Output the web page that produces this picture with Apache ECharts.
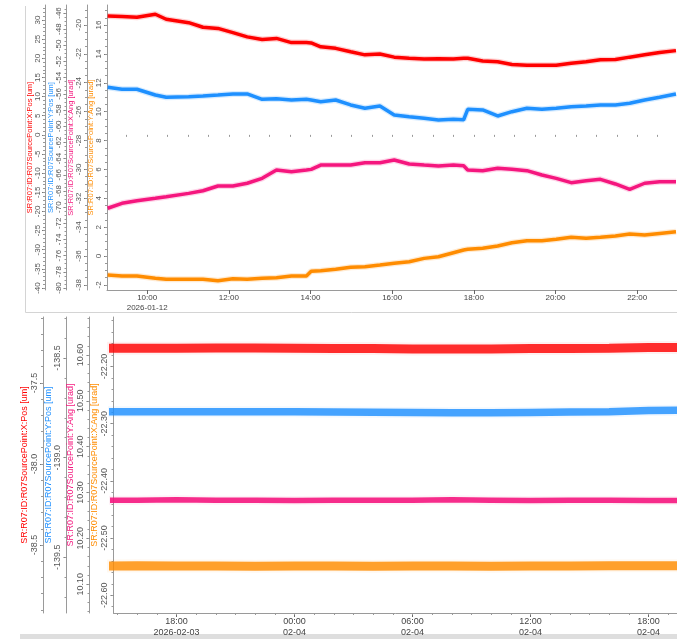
<!DOCTYPE html>
<html><head><meta charset="utf-8">
<script src="https://cdn.jsdelivr.net/npm/echarts@6/dist/echarts.min.js"></script>
<style>html,body{margin:0;padding:0;background:#fff;overflow:hidden}#c{width:677px;height:639px}</style>
</head><body><div id="c"></div><script>
// ---------- DATA: top panel (2026-01-12) ----------
const topDate = '2026-01-12';
const topTimes = ['09:02','09:23','09:45','10:12','10:28','11:01','11:22','11:44','12:06','12:27','12:49','13:10','13:32','13:54','14:01','14:15','14:37','14:59','15:20','15:42','16:03','16:25','16:47','17:08','17:30','17:45','17:51','18:13','18:35','18:56','19:18','19:40','20:01','20:23','20:45','21:06','21:28','21:49','22:11','22:33','22:57'];
const topXPos = [31.04,30.9,30.7,31.5,30.2,29.3,28.1,27.8,26.7,25.6,24.9,25.2,24.1,24.1,24.0,23.0,22.6,21.7,20.9,21.1,20.3,20.0,19.8,19.9,19.8,20.0,20.0,19.3,19.1,18.4,18.2,18.2,18.2,18.7,19.1,19.6,19.7,20.3,20.9,21.5,22.0];
const topYPos = [-55.19,-55.43,-55.43,-56.14,-56.42,-56.35,-56.26,-56.14,-56.01,-56.01,-56.67,-56.60,-56.76,-56.67,-56.75,-56.97,-56.76,-57.37,-57.78,-57.50,-58.61,-58.82,-59.02,-59.23,-59.14,-59.20,-57.91,-57.99,-58.73,-58.20,-57.78,-57.91,-57.78,-57.59,-57.50,-57.37,-57.37,-57.16,-56.76,-56.42,-56.01];
const topXAng = [-32.69,-32.35,-32.17,-32.00,-31.89,-31.66,-31.48,-31.15,-31.15,-30.96,-30.62,-30.04,-30.16,-30.04,-30.00,-29.70,-29.70,-29.70,-29.54,-29.54,-29.35,-29.63,-29.70,-29.76,-29.70,-29.75,-30.04,-30.09,-29.92,-29.99,-30.09,-30.39,-30.62,-30.92,-30.78,-30.69,-31.01,-31.38,-30.96,-30.85,-30.85];
const topYAng = [-1.31,-1.38,-1.38,-1.54,-1.61,-1.61,-1.61,-1.71,-1.57,-1.61,-1.54,-1.50,-1.38,-1.38,-1.05,-1.02,-0.92,-0.78,-0.74,-0.62,-0.50,-0.39,-0.16,-0.05,0.23,0.42,0.47,0.54,0.70,0.92,1.06,1.06,1.16,1.30,1.23,1.30,1.39,1.53,1.46,1.57,1.69];
const topTicksXPos = [30,25,20,15,10,5,0,-5,-10,-15,-20,-25,-30,-35,-40];
const topTicksYPos = [-46,-48,-50,-52,-54,-56,-58,-60,-62,-64,-66,-68,-70,-72,-74,-76,-78,-80];
const topTicksXAng = [-20,-22,-24,-26,-28,-30,-32,-34,-36,-38];
const topTicksYAng = [16,14,12,10,8,6,4,2,0,-2];
const topTimeTicks = ['10:00','12:00','14:00','16:00','18:00','20:00','22:00'];
const topTimeLabels = ['10:00\n2026-01-12','12:00','14:00','16:00','18:00','20:00','22:00'];

// ---------- DATA: bottom panel (2026-02-03 .. 02-04) ----------
const botTimes = ['2026-02-03 14:00','2026-02-03 16:00','2026-02-03 18:00','2026-02-03 20:00','2026-02-03 22:00','2026-02-04 00:00','2026-02-04 02:00','2026-02-04 04:00','2026-02-04 06:00','2026-02-04 08:00','2026-02-04 10:00','2026-02-04 12:00','2026-02-04 14:00','2026-02-04 16:00','2026-02-04 18:00','2026-02-04 20:00'];
const botXPos = [-37.286,-37.286,-37.286,-37.284,-37.284,-37.286,-37.288,-37.288,-37.290,-37.290,-37.290,-37.288,-37.288,-37.286,-37.282,-37.282];
const botYPos = [-138.770,-138.770,-138.770,-138.770,-138.770,-138.770,-138.771,-138.772,-138.773,-138.775,-138.775,-138.773,-138.771,-138.770,-138.763,-138.761];
const botYAng = [10.2833,10.2833,10.2840,10.2833,10.2833,10.2826,10.2833,10.2833,10.2833,10.2840,10.2833,10.2826,10.2833,10.2833,10.2826,10.2826];
const botXAng = [-22.5488,-22.5482,-22.5488,-22.5488,-22.5494,-22.5488,-22.5488,-22.5494,-22.5488,-22.5488,-22.5494,-22.5488,-22.5488,-22.5482,-22.5482,-22.5482];
const botTicksXPos = [-37.5,-38.0,-38.5];
const botTicksYPos = [-138.5,-139.0,-139.5];
const botTicksYAng = [10.60,10.50,10.40,10.30,10.20,10.10];
const botTicksXAng = [-22.20,-22.30,-22.40,-22.50,-22.60];
const botTimeTicks = ['2026-02-03 18:00','2026-02-04 00:00','2026-02-04 06:00','2026-02-04 12:00','2026-02-04 18:00'];
const botTimeLabels = ['18:00\n2026-02-03','00:00\n02-04','06:00\n02-04','12:00\n02-04','18:00\n02-04'];

// ---------- helpers ----------
const FONT = 'Liberation Sans';
const C_RED = '#ff0000', C_BLUE = '#1e90ff', C_PINK = '#f5167e', C_ORANGE = '#ff8c00';
function ts(s){ return new Date(s.replace(' ', 'T') + ':00').getTime(); }
function minorList(min, max, step){
  const out = []; let v = Math.ceil(min / step - 1e-9) * step;
  for (; v <= max + 1e-9; v += step) out.push(+v.toFixed(6));
  return out;
}
const yAxes = [];
function addY(grid, offset, min, max, ticks, dec, step, name, color, gap, fs, nfs, margin){
  const idx = yAxes.length;
  yAxes.push({
    type:'value', gridIndex:grid, position:'left', offset:offset, min:min, max:max,
    name:name, nameLocation:'middle', nameGap:gap, nameMoveOverlap:false,
    nameTextStyle:{color:color, fontSize:nfs, fontFamily:FONT},
    axisLine:{show:true, onZero:false, lineStyle:{color:'#9a9a9a', width:1}},
    axisTick:{show:true, length:3, customValues:ticks, lineStyle:{color:'#777'}},
    axisLabel:{show:true, rotate:90, margin:margin, fontSize:fs, fontFamily:FONT, color:'#555',
      customValues:ticks, formatter:v => Number(v).toFixed(dec)},
    splitLine:{show:false}
  });
  yAxes.push({
    type:'value', gridIndex:grid, position:'left', offset:offset, min:min, max:max,
    axisLine:{show:false}, axisLabel:{show:false}, splitLine:{show:false},
    axisTick:{show:true, length:2, customValues:minorList(min, max, step), lineStyle:{color:'#999'}}
  });
  return idx;
}

// Top panel axes
const yTopXPos = addY(0, 62, -40.52, 33.92, topTicksXPos, 0, 1, 'SR:R07:ID:R07SourcePoint:X:Pos [um]', C_RED, 11, 8, 7.5, 3);
const yTopYPos = addY(0, 40.5, -80.25, -45.01, topTicksYPos, 0, 0.5, 'SR:R07:ID:R07SourcePoint:Y:Pos [um]', C_BLUE, 12, 8, 7.5, 4);
const yTopXAng = addY(0, 20, -38.35, -18.62, topTicksXAng, 0, 0.5, 'SR:R07:ID:R07SourcePoint:X:Ang [urad]', C_PINK, 12, 8, 7.5, 4);
const yTopYAng = addY(0, 0, -2.35, 17.39, topTicksYAng, 0, 0.5, 'SR:R07:ID:R07SourcePoint:Y:Ang [urad]', C_ORANGE, 12, 8, 7.5, 4);
// Bottom panel axes
const yBotXPos = addY(1, 70.5, -38.92, -37.093, botTicksXPos, 1, 0.1, 'SR:R07:ID:R07SourcePoint:X:Pos [um]', C_RED, 14, 9, 9, 4);
const yBotYPos = addY(1, 47, -139.78, -138.294, botTicksYPos, 1, 0.1, 'SR:R07:ID:R07SourcePoint:Y:Pos [um]', C_BLUE, 13, 9, 9, 4);
const yBotYAng = addY(1, 24, 10.037, 10.683, botTicksYAng, 2, 0.02, 'SR:R07:ID:R07SourcePoint:Y:Ang [urad]', C_PINK, 14, 9, 9, 4);
const yBotXAng = addY(1, 0, -22.631, -22.1135, botTicksXAng, 2, 0.02, 'SR:R07:ID:R07SourcePoint:X:Ang [urad]', C_ORANGE, 14, 9, 9, 4);

function xAxisPair(grid, min, max, tickStrs, labels, minorStep, fs){
  const majors = tickStrs.map(ts);
  const minors = [];
  for (let v = Math.ceil(min / minorStep) * minorStep; v <= max; v += minorStep) minors.push(v);
  return [{
    type:'value', gridIndex:grid, position:'bottom', min:min, max:max, scale:true,
    axisLine:{show:true, onZero:false, lineStyle:{color:'#9a9a9a'}},
    axisTick:{show:true, length:4, customValues:majors, lineStyle:{color:'#666'}},
    axisLabel:{show:true, customValues:majors, fontSize:fs, fontFamily:FONT, color:'#444', lineHeight:fs+2, margin:3,
      formatter:(v) => { const i = majors.indexOf(+v); return i >= 0 ? labels[i] : ''; }},
    splitLine:{show:false}
  },{
    type:'value', gridIndex:grid, position:'bottom', min:min, max:max, scale:true,
    axisLine:{show:false}, axisLabel:{show:false}, splitLine:{show:false},
    axisTick:{show:true, length:2, customValues:minors, lineStyle:{color:'#999'}}
  }];
}
const topMin = ts(topDate + ' 09:01'), topMax = ts(topDate + ' 22:58') + 30000;
const botMin = ts('2026-02-03 14:48'), botMax = ts('2026-02-04 19:27');
const xAxes = [].concat(
  xAxisPair(0, topMin, topMax, topTimeTicks.map(t => topDate + ' ' + t), topTimeLabels, 30*60000, 8),
  xAxisPair(1, botMin, botMax, botTimeTicks, botTimeLabels, 60*60000, 9)
);

function line(xi, yi, times, vals, color, width, opacity){
  return {type:'line', xAxisIndex:xi, yAxisIndex:yi, showSymbol:false, symbol:'none', silent:true,
    data: times.map((t, i) => [ts(t), vals[i]]),
    lineStyle:{color:color, width:width, opacity:opacity}, itemStyle:{color:color}};
}
const topT = topTimes.map(t => topDate + ' ' + t);
const series = [
  line(0, yTopXPos, topT, topXPos, C_RED, 6, 0.18),
  line(0, yTopYPos, topT, topYPos, C_BLUE, 6, 0.18),
  line(0, yTopXAng, topT, topXAng, C_PINK, 6, 0.18),
  line(0, yTopYAng, topT, topYAng, C_ORANGE, 6, 0.18),
  line(0, yTopXPos, topT, topXPos, C_RED, 3.5, 1),
  line(0, yTopYPos, topT, topYPos, C_BLUE, 3.5, 1),
  line(0, yTopXAng, topT, topXAng, C_PINK, 3.5, 1),
  line(0, yTopYAng, topT, topYAng, C_ORANGE, 3.5, 1),
  line(2, yBotXPos, botTimes, botXPos, C_RED, 13, 0.06),
  line(2, yBotYPos, botTimes, botYPos, C_BLUE, 11, 0.06),
  line(2, yBotYAng, botTimes, botYAng, C_PINK, 9, 0.06),
  line(2, yBotXAng, botTimes, botXAng, C_ORANGE, 13, 0.06),
  line(2, yBotXPos, botTimes, botXPos, C_RED, 9, 0.82),
  line(2, yBotYPos, botTimes, botYPos, C_BLUE, 7.5, 0.82),
  line(2, yBotYAng, botTimes, botYAng, C_PINK, 5.5, 0.9),
  line(2, yBotXAng, botTimes, botXAng, C_ORANGE, 9, 0.82)
];

const chart = echarts.init(document.getElementById('c'), null, {renderer:'canvas'});
chart.setOption({
  animation:false,
  backgroundColor:'#fff',
  textStyle:{fontFamily:FONT},
  grid:[
    {left:107, right:0, top:5, height:285},
    {left:113.5, right:0, top:317, height:296}
  ],
  xAxis:xAxes,
  yAxis:yAxes,
  series:series,
  graphic:[
    {type:'polyline', silent:true, shape:{points:[[25.5,6],[25.5,312.5],[677,312.5]]}, style:{stroke:'#d4d4d4', lineWidth:1, fill:null}},
    {type:'rect', silent:true, shape:{x:20, y:634, width:657, height:5}, style:{fill:'#dedede'}}
  ]
});
</script></body></html>
